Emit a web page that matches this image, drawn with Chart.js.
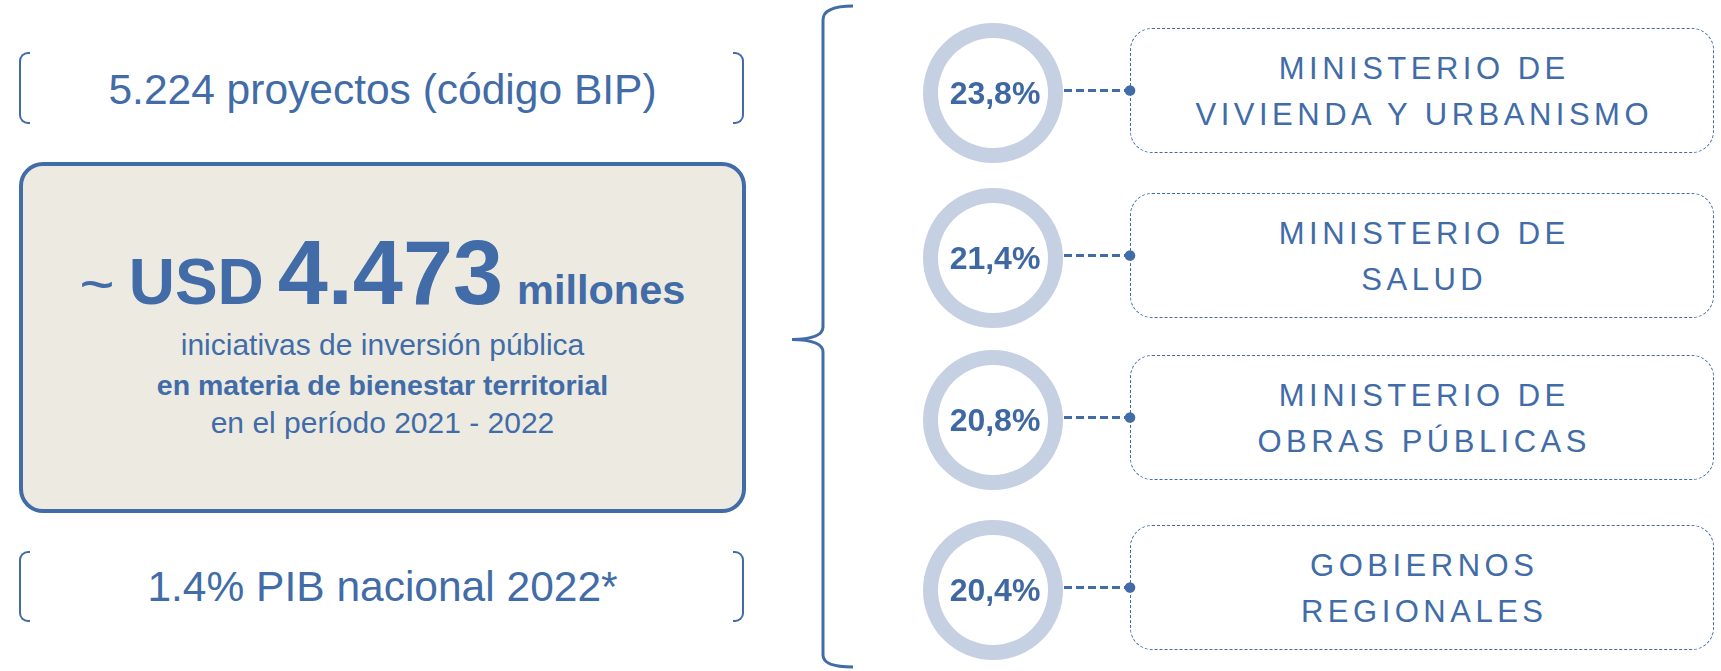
<!DOCTYPE html>
<html>
<head>
<meta charset="utf-8">
<script src="https://cdn.jsdelivr.net/npm/chart.js@4.4.1/dist/chart.umd.min.js"></script>
<style>
  html, body { margin: 0; padding: 0; background: #fff; }
  body { width: 1721px; height: 671px; position: relative; overflow: hidden;
         font-family: "Liberation Sans", Arial, sans-serif; color: #416ca8; }
  .abs { position: absolute; }
  .line { position: absolute; left: 19px; width: 727px; text-align: center; line-height: 1; white-space: nowrap; }
  .brk { position: absolute; width: 9px; border: 2px solid #416ca8; }
  .brk.l { border-right: none; border-radius: 9px 0 0 9px; }
  .brk.r { border-left: none; border-radius: 0 9px 9px 0; }
  #mainBox { left: 19px; top: 162px; width: 727px; height: 351px; box-sizing: border-box;
             border: 4px solid #416ca8; border-radius: 24px; background: #edebe1; }
  #headline { position: absolute; left: 19px; width: 727px; display: flex; justify-content: center;
              align-items: baseline; gap: 14px; line-height: 1; font-weight: bold; white-space: nowrap; }
  .agency { position: absolute; left: 1130px; width: 584px; height: 125px; box-sizing: border-box;
            border: 1.5px dashed #416ca8; border-radius: 22px; display: flex; flex-direction: column;
            justify-content: center; align-items: center; padding-top: 2px;
            font-size: 31px; letter-spacing: 4.5px; line-height: 46px; color: #416ca8; }
  .agency span { padding-left: 4.5px; }
  canvas.ring { position: absolute; left: 923px; z-index: 2; }
</style>
</head>
<body>
<div id="left"></div>
<svg class="abs" style="left:0;top:0" width="1721" height="671">
  <path d="M853,6 Q823,6 823,20 L823,327 Q823,339 792,339.5 Q823,340 823,352 L823,655 Q823,667 853,667"
        fill="none" stroke="#416ca8" stroke-width="3"/>
</svg>
<script>
// summary figures
const projectCount = "5.224";
const amountUSD = "4.473";
const gdpShare = "1.4%";
const period = ["2021", "2022"];

// share of investment by institution
const agencies = [
  ["MINISTERIO DE", "VIVIENDA Y URBANISMO"],
  ["MINISTERIO DE", "SALUD"],
  ["MINISTERIO DE", "OBRAS PÚBLICAS"],
  ["GOBIERNOS", "REGIONALES"]
];
const shares = [23.8, 21.4, 20.8, 20.4];

// layout (centre y of each row)
const rowCenters = [93, 258, 420, 590];

const BLUE = "#416ca8";
const RING = "#c5d0e2";

const left = document.getElementById("left");

function addBracket(top, height) {
  const l = document.createElement("div");
  l.className = "brk l";
  l.style.left = "19px"; l.style.top = top + "px"; l.style.height = (height - 4) + "px";
  const r = document.createElement("div");
  r.className = "brk r";
  r.style.left = "733px"; r.style.top = top + "px"; r.style.height = (height - 4) + "px";
  left.appendChild(l); left.appendChild(r);
}

// put a single line so that its baseline lands on y
function addLine(text, baseline, size, weight) {
  const d = document.createElement("div");
  d.className = "line";
  d.style.fontSize = size + "px";
  d.style.fontWeight = weight || "normal";
  d.style.top = (baseline - 0.8465 * size) + "px";
  d.textContent = text;
  left.appendChild(d);
  return d;
}

addBracket(52, 72);
addLine(projectCount + " proyectos (código BIP)", 105, 42.5);

const box = document.createElement("div");
box.id = "mainBox";
box.className = "abs";
left.appendChild(box);

const head = document.createElement("div");
head.id = "headline";
head.style.top = (304 - 0.8465 * 90) + "px";
head.innerHTML =
  '<span style="font-size:60px;font-weight:normal">~</span>' +
  '<span style="font-size:64px">USD</span>' +
  '<span style="font-size:90px">' + amountUSD + '</span>' +
  '<span style="font-size:41.5px">millones</span>';
left.appendChild(head);

addLine("iniciativas de inversión pública", 355, 30);
addLine("en materia de bienestar territorial", 395, 28.5, "bold");
addLine("en el período " + period[0] + " - " + period[1], 433, 30);

addBracket(551, 71);
addLine(gdpShare + " PIB nacional 2022*", 602, 42.5);

// ring label + dashed connector
const ringDecor = {
  id: "ringDecor",
  afterDatasetsDraw(chart) {
    const arc = chart.getDatasetMeta(0).data[0];
    const ctx = chart.ctx;
    const v = chart.data.datasets[0].data[0];
    const cy = arc.y - 2.5;
    ctx.save();
    ctx.strokeStyle = BLUE;
    ctx.lineWidth = 3;
    ctx.setLineDash([8, 4]);
    ctx.beginPath();
    ctx.moveTo(arc.x + arc.outerRadius + 1, cy);
    ctx.lineTo(chart.width - 6, cy);
    ctx.stroke();
    ctx.setLineDash([]);
    ctx.fillStyle = BLUE;
    ctx.beginPath();
    ctx.arc(chart.width - 6, cy, 5.3, 0, Math.PI * 2);
    ctx.fill();
    ctx.font = "bold 32px 'Liberation Sans', Arial, sans-serif";
    ctx.textAlign = "center";
    ctx.textBaseline = "alphabetic";
    ctx.fillStyle = "#3f68a3";
    ctx.fillText(v.toFixed(1).replace(".", ",") + "%", arc.x + 2, arc.y + 11);
    ctx.restore();
  }
};

shares.forEach((v, i) => {
  const c = document.createElement("canvas");
  c.className = "ring";
  c.width = 213;
  c.height = 140;
  c.style.top = (rowCenters[i] - 70) + "px";
  document.body.appendChild(c);

  new Chart(c, {
    type: "doughnut",
    data: {
      labels: [agencies[i].join(" ")],
      datasets: [{ data: [v], backgroundColor: RING, borderWidth: 0 }]
    },
    options: {
      responsive: false,
      animation: false,
      cutout: "78.6%",
      layout: { padding: { right: 73 } },
      plugins: { legend: { display: false }, tooltip: { enabled: false } }
    },
    plugins: [ringDecor]
  });

  const b = document.createElement("div");
  b.className = "agency";
  b.style.top = (rowCenters[i] - 2.5 - 62.5) + "px";
  b.innerHTML = agencies[i].map(t => "<span>" + t + "</span>").join("");
  document.body.appendChild(b);
});
</script>
</body>
</html>
